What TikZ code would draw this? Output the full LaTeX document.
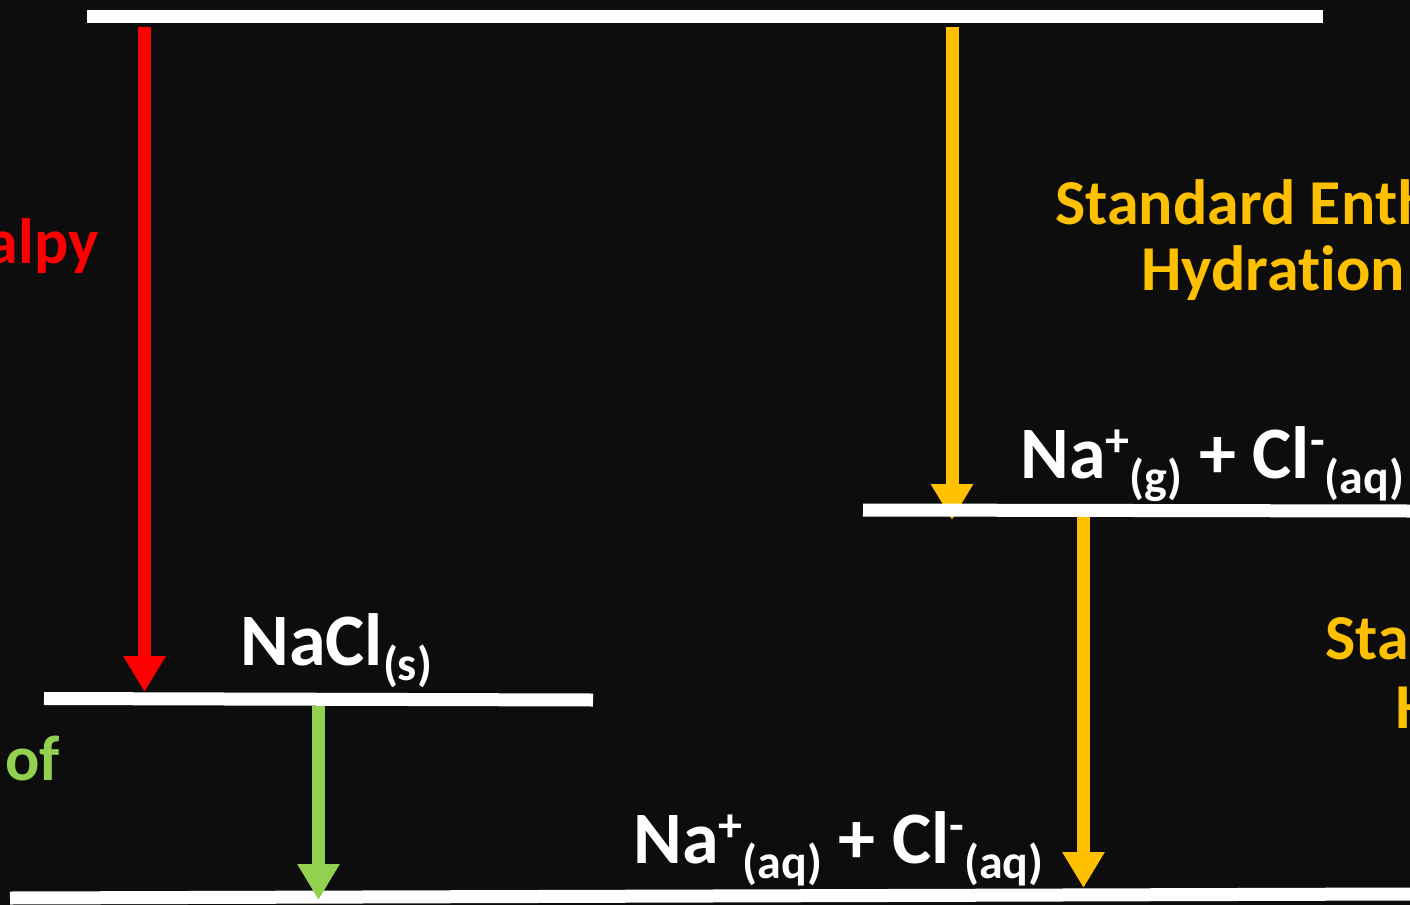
\documentclass[tikz,border=0pt]{standalone}
\usepackage{fontspec}
\setmainfont{Carlito}[Ligatures=NoCommon]
\usetikzlibrary{arrows.meta}
\definecolor{bgc}{HTML}{0D0D0D}
\definecolor{cred}{HTML}{FF0000}
\definecolor{cyel}{HTML}{FFC000}
\definecolor{cgrn}{HTML}{92D050}
\newcommand{\lo}[1]{\raisebox{-7.5pt}{\fontsize{24pt}{24pt}\selectfont #1}}
\newcommand{\hi}[1]{\raisebox{11pt}{\fontsize{24pt}{24pt}\selectfont #1}}
\begin{document}
\begin{tikzpicture}[x=0.5pt,y=-0.5pt,
  level/.style={line width=6.5pt, draw=white},
  arr/.style={line width=6.5pt, -{Triangle[width=20pt,length=18pt]}},
  lab/.style={inner sep=0pt, font=\fontsize{32pt}{40pt}\selectfont\bfseries},
  spec/.style={inner sep=0pt, text=white, font=\fontsize{37pt}{44pt}\selectfont\bfseries}]
\fill[bgc] (0,0) rectangle (1410,905);
\useasboundingbox (0,0) rectangle (1410,905);
% level end points
\coordinate (topL) at (87,16.5);
\coordinate (topR) at (1323,16.5);
\coordinate (saltL) at (44,698.5);
\coordinate (saltR) at (593,700);
\coordinate (gasL) at (863,510);
\coordinate (gasR) at (1410,511);
\coordinate (aqL) at (10,898);
\coordinate (aqR) at (1410,894);
% arrow end points
\coordinate (r1) at (144.5,27);
\coordinate (r2) at (144.5,692);
\coordinate (y1) at (952,27);
\coordinate (y2) at (952,520);
\coordinate (g1) at (318.5,706);
\coordinate (g2) at (318.5,900);
\coordinate (h1) at (1083.5,517);
\coordinate (h2) at (1083.5,888);
% levels
\draw[level] (topL) -- (topR);
\draw[level] (saltL) -- (saltR);
\draw[level] (aqL) -- (aqR);
% arrows
\draw[arr, cred] (r1) -- (r2);
\draw[arr, cyel] (y1) -- (y2);
\draw[arr, cgrn] (g1) -- (g2);
\draw[arr, cyel] (h1) -- (h2);
\draw[level] (gasL) -- (gasR);
% labels
\node[lab, text=cred, anchor=base east] (tred) at (99,263) {alpy};
\node[lab, text=cgrn, anchor=base west] (tgrn) at (5,780) {of};
\node[lab, text=cyel, anchor=base west] (ty1a) at (1055,224) {Standard Enth};
\node[lab, text=cyel, anchor=base west] (ty1b) at (1141,290) {Hydration};
\node[lab, text=cyel, anchor=base west] (ty2a) at (1325,659) {Sta};
\node[lab, text=cyel, anchor=base west] (ty2b) at (1395,728) {H};
% species
\node[spec, anchor=base west] (nacl) at (240,665) {NaCl\lo{(s)}};
\node[spec, anchor=base west] (gas) at (1020,478) {Na\hi{+}\lo{(g)} + Cl\hi{-}\lo{(aq)}};
\node[spec, anchor=base west] (aq) at (633,863) {Na\hi{+}\lo{(aq)} + Cl\hi{-}\lo{(aq)}};
\end{tikzpicture}
\end{document}
